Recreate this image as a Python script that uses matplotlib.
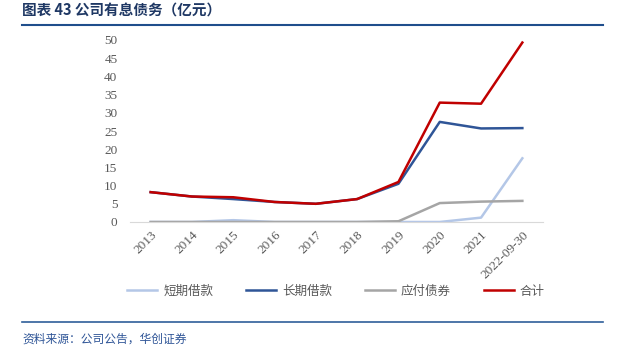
import matplotlib
matplotlib.use("Agg")
import matplotlib.pyplot as plt
from matplotlib.lines import Line2D

plt.rcParams["font.family"] = ["Liberation Serif", "Noto Sans CJK SC"]

# Data (亿元)
years = ["2013", "2014", "2015", "2016", "2017", "2018", "2019", "2020", "2021", "2022-09-30"]
short_loan = [0, 0, 0.5, 0, 0, 0, 0, 0, 1.2, 17.5]
long_loan = [8.2, 7.0, 6.3, 5.5, 5.0, 6.3, 10.5, 27.5, 25.7, 25.8]
bonds = [0, 0, 0, 0, 0, 0, 0.2, 5.2, 5.6, 5.8]
total = [8.2, 7.0, 6.8, 5.5, 5.0, 6.3, 11.0, 32.8, 32.5, 49.3]

series = [
    ("短期借款", short_loan, "#b4c7e7"),
    ("长期借款", long_loan, "#2f5597"),
    ("应付债券", bonds, "#a5a5a5"),
    ("合计", total, "#c00000"),
]

W, H = 626, 358
fig = plt.figure(figsize=(W / 100, H / 100), dpi=100)
fig.patch.set_facecolor("white")

ax = fig.add_axes([130 / W, 1 - 222 / H, 413 / W, 182 / H])
x = list(range(len(years)))
for name, vals, col in series:
    ax.plot(x, vals, color=col, linewidth=1.8, label=name, solid_joinstyle="round")

ax.set_xlim(-0.5, len(years) - 0.5)
ax.set_ylim(0, 50)
ax.set_yticks(range(0, 51, 5))
for s in ["top", "right", "left"]:
    ax.spines[s].set_visible(False)
ax.spines["bottom"].set_color("#d9d9d9")
ax.tick_params(axis="both", length=0, colors="#595959", labelsize=9.5)
ax.tick_params(axis="y", pad=9)
ax.tick_params(axis="x", pad=5)
ax.set_xticks(x)
ax.set_xticklabels(years, rotation=45, ha="right", va="top", rotation_mode="anchor")

handles = [Line2D([], [], color=c, linewidth=1.8) for _, _, c in series]
fig.legend(handles, [n for n, _, _ in series], loc="center", bbox_to_anchor=(336 / W, 1 - 291 / H),
           ncol=4, frameon=False, handlelength=2.4, handletextpad=0.5, columnspacing=2.6,
           prop={"family": "Noto Sans CJK SC", "size": 9}, labelcolor="#595959")

# Title and rules
fig.text(22 / W, 1 - 11 / H, "图表 43 公司有息债务（亿元）", fontsize=10.5, fontweight="bold",
         color="#1f3864", va="center", ha="left", family=["Noto Sans CJK SC", "DejaVu Sans"])
fig.add_artist(Line2D([22 / W, 603 / W], [1 - 25 / H, 1 - 25 / H], color="#1f4e8c", linewidth=1.5))
fig.add_artist(Line2D([22 / W, 603 / W], [1 - 322 / H, 1 - 322 / H], color="#2f5f9a", linewidth=1.2))
fig.text(22 / W, 1 - 339 / H, "资料来源：公司公告，华创证券", fontsize=8.5, color="#2f5597",
         va="center", ha="left", style="italic", family=["Noto Sans CJK SC", "DejaVu Sans"])

fig.savefig("out.png", dpi=100, facecolor="white")
